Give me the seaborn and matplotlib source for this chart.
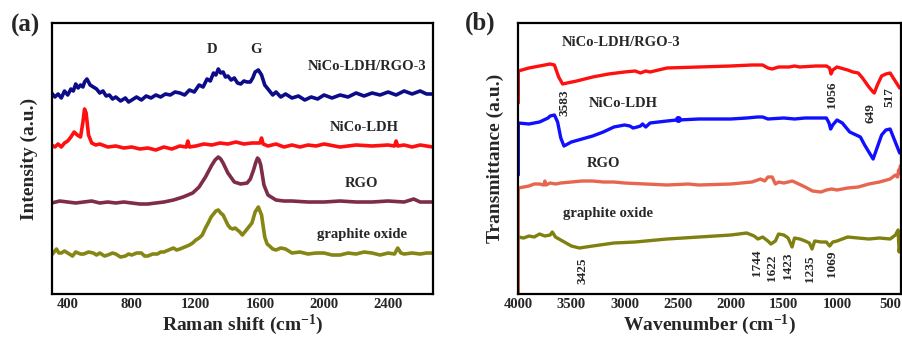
import matplotlib
matplotlib.use("Agg")
import matplotlib.pyplot as plt
import seaborn as sns
from matplotlib.ticker import MultipleLocator

# ---------------- Raman data (panel a) ----------------
raman_comp_x = [300, 320, 340, 360, 380, 400, 420, 435, 450, 465, 480, 495, 505, 520, 540, 560, 580, 600, 620, 640, 660, 680,
                700, 730, 760, 780, 800, 830, 860, 890, 920, 950, 980, 1010, 1040, 1070, 1100, 1130, 1160, 1190, 1220, 1245,
                1270, 1290, 1310, 1325, 1340, 1355, 1370, 1385, 1400, 1420, 1440, 1460, 1480, 1500, 1520, 1540, 1555, 1570,
                1590, 1610, 1630, 1645, 1660, 1680, 1700, 1730, 1760, 1800, 1840, 1880, 1920, 1960, 2000, 2050, 2100, 2150,
                2200, 2250, 2300, 2350, 2400, 2450, 2500, 2550, 2600, 2640, 2680]
raman_comp_y = [201, 197, 200, 196, 203, 199, 205, 203, 210, 206, 209, 207, 212, 215, 209, 207, 205, 201, 203, 198, 199, 195,
                197, 193, 196, 192, 194, 197, 194, 198, 196, 199, 197, 200, 199, 202, 201, 199, 204, 202, 209, 207,
                215, 213, 221, 219, 225, 221, 222, 217, 218, 214, 216, 211, 210, 213, 212, 212, 216, 222,
                224, 219, 209, 206, 203, 199, 202, 197, 200, 196, 198, 194, 197, 195, 199, 196, 199, 197,
                201, 198, 201, 199, 202, 199, 203, 200, 203, 200, 200]

raman_ldh_x = [300, 320, 340, 360, 380, 400, 420, 440, 460, 480, 495, 505, 515, 530, 550, 575, 600, 650, 700, 750, 800,
               850, 900, 950, 1000, 1050, 1100, 1140, 1150, 1160, 1200, 1250, 1300, 1350, 1400, 1450, 1500, 1550, 1600,
               1610, 1620, 1650, 1700, 1750, 1800, 1850, 1900, 1950, 2000, 2100, 2200, 2300, 2400, 2440, 2450, 2460,
               2500, 2550, 2600, 2640, 2680]
raman_ldh_y = [149, 147, 150, 147, 151, 153, 157, 162, 159, 157, 172, 185, 181, 159, 151, 149, 150, 147, 148, 146, 147,
               145, 146, 144, 147, 145, 148, 147, 153, 147, 148, 150, 149, 151, 150, 152, 150, 151, 151,
               156, 150, 148, 150, 147, 149, 147, 149, 148, 150, 147, 149, 148, 149, 148, 153, 148,
               149, 147, 149, 148, 147]

raman_rgo_x = [300, 350, 400, 450, 500, 550, 600, 650, 700, 750, 800, 850, 900, 950, 1000, 1060, 1120, 1180, 1220, 1260,
               1300, 1320, 1340, 1355, 1370, 1400, 1440, 1480, 1520, 1540, 1560, 1575, 1585, 1595, 1605, 1625, 1650,
               1700, 1750, 1800, 1900, 2000, 2100, 2200, 2300, 2400, 2500, 2560, 2600, 2680]
raman_rgo_y = [91, 93, 92, 91, 92, 93, 91, 92, 91, 92, 91, 90, 90, 91, 92, 94, 97, 101, 107, 117,
               129, 134, 137, 135, 131, 121, 112, 110, 111, 115, 124, 132, 136, 134, 129, 109, 99,
               94, 93, 93, 92, 92, 93, 92, 92, 93, 92, 95, 92, 92]

raman_go_x = [300, 315, 330, 345, 360, 380, 400, 430, 450, 480, 500, 530, 560, 580, 600, 630, 650, 680, 700, 730, 760, 780,
              800, 830, 860, 880, 900, 930, 960, 980, 1000, 1030, 1060, 1080, 1100, 1130, 1160, 1180, 1200, 1220, 1240,
              1260, 1280, 1295, 1310, 1325, 1340, 1355, 1370, 1385, 1400, 1415, 1430, 1445, 1460, 1475, 1490, 1505, 1520,
              1535, 1550, 1570, 1590, 1610, 1630, 1645, 1660, 1680, 1700, 1730, 1760, 1800, 1850, 1900, 1950, 2000, 2050,
              2100, 2150, 2200, 2250, 2300, 2350, 2400, 2440, 2460, 2480, 2500, 2550, 2600, 2640, 2680]
raman_go_y = [39, 42, 45, 41, 41, 43, 41, 38, 42, 40, 40, 42, 41, 39, 41, 38, 39, 41, 40, 37, 38, 40,
              39, 41, 41, 38, 38, 40, 40, 42, 42, 44, 46, 44, 45, 47, 49, 51, 54, 56, 59,
              66, 72, 77, 80, 83, 84, 81, 79, 74, 69, 66, 65, 66, 64, 62, 59, 62, 65,
              68, 71, 82, 87, 79, 57, 50, 48, 45, 44, 46, 45, 41, 42, 40, 41, 41, 39,
              39, 41, 40, 42, 41, 39, 41, 40, 46, 41, 40, 41, 40, 41, 41]

# ---------------- FTIR data (panel b) ----------------
ftir_comp_x = [4000, 4000, 3900, 3800, 3700, 3660, 3620, 3583, 3540, 3450, 3300, 3150, 3000, 2900, 2850, 2800, 2760, 2600,
               2300, 2000, 1800, 1700, 1650, 1610, 1550, 1450, 1400, 1350, 1200, 1100, 1070, 1056, 1040, 1000, 900,
               850, 800, 760, 700, 660, 649, 620, 580, 540, 500, 470, 440, 410]
ftir_comp_y = [191, 223, 226, 228, 230, 229, 217, 210, 211, 213, 217, 220, 222, 223, 221, 223, 222, 226,
               227, 228, 229, 229, 226, 225, 227, 227, 228, 227, 228, 228, 226, 220, 224, 227, 224,
               222, 221, 216, 207, 202, 201, 209, 218, 220, 221, 216, 211, 206]

ftir_ldh_x = [4000, 4000, 3900, 3800, 3720, 3700, 3660, 3630, 3600, 3570, 3500, 3400, 3300, 3200, 3100, 3000, 2950, 2920,
              2880, 2850, 2830, 2800, 2760, 2600, 2510, 2500, 2490, 2300, 2000, 1850, 1750, 1700, 1650, 1500, 1400,
              1300, 1100, 1075, 1060, 1040, 1000, 950, 880, 820, 780, 740, 700, 660, 620, 580, 540, 500, 470, 440, 410]
ftir_ldh_y = [119, 171, 170, 172, 176, 178, 179, 172, 156, 148, 152, 155, 158, 162, 167, 169, 168, 166,
              167, 168, 170, 167, 171, 173, 174, 176, 174, 175, 175, 176, 177, 177, 175, 176, 175,
              176, 176, 171, 165, 169, 174, 171, 162, 159, 157, 149, 142, 135, 147, 159, 164, 165, 157, 149, 141]

ftir_rgo_x = [4000, 4000, 3950, 3900, 3850, 3800, 3760, 3750, 3740, 3700, 3650, 3600, 3500, 3400, 3300, 3200, 3100, 3000,
              2800, 2600, 2400, 2300, 2000, 1800, 1720, 1680, 1650, 1610, 1580, 1550, 1500, 1460, 1420, 1380, 1300,
              1230, 1150, 1100, 1050, 1000, 900, 800, 700, 600, 500, 450, 430, 420, 410, 405]
ftir_rgo_y = [0, 106, 107, 108, 110, 110, 109, 113, 109, 111, 110, 111, 112, 113, 113, 112, 112, 111,
              110, 109, 110, 109, 110, 112, 115, 113, 117, 117, 110, 112, 111, 112, 113, 111, 107,
              103, 102, 104, 105, 104, 106, 107, 110, 112, 115, 119, 117, 124, 121, 128]

ftir_go_x = [4000, 3950, 3900, 3850, 3800, 3750, 3700, 3680, 3650, 3600, 3500, 3425, 3300, 3100, 2900, 2600, 2300, 2000,
             1850, 1780, 1744, 1700, 1650, 1622, 1580, 1550, 1500, 1460, 1423, 1400, 1350, 1300, 1260, 1235, 1210,
             1150, 1100, 1069, 1040, 1000, 900, 800, 700, 600, 500, 450, 425, 415, 405]
ftir_go_y = [57, 56, 58, 57, 60, 58, 59, 62, 57, 54, 48, 46, 48, 51, 52, 55, 57, 59,
             61, 58, 55, 57, 53, 50, 53, 60, 59, 56, 47, 56, 55, 53, 51, 45, 53,
             52, 52, 48, 52, 53, 57, 56, 55, 56, 55, 59, 64, 42, 52]

# labels
raman_labels = ["NiCo-LDH/RGO-3", "NiCo-LDH", "RGO", "graphite oxide"]
ftir_labels = ["NiCo-LDH/RGO-3", "NiCo-LDH", "RGO", "graphite oxide"]
ftir_peaks = ["3583", "1056", "649", "517", "3425", "1744", "1622", "1423", "1235", "1069"]
raman_ticks = [400, 800, 1200, 1600, 2000, 2400]
ftir_ticks = [4000, 3500, 3000, 2500, 2000, 1500, 1000, 500]

# ---------------- style ----------------
sns.set_style("white")
plt.rcParams["font.family"] = ["Liberation Serif", "DejaVu Serif"]
plt.rcParams["font.weight"] = "bold"
plt.rcParams["mathtext.fontset"] = "custom"
plt.rcParams["mathtext.rm"] = "Liberation Serif:bold"
plt.rcParams["mathtext.it"] = "Liberation Serif:bold"
plt.rcParams["mathtext.bf"] = "Liberation Serif:bold"

fig = plt.figure(figsize=(9.02, 3.44), dpi=100)
axa = fig.add_axes([0.0573, 0.1453, 0.4227, 0.787])
axb = fig.add_axes([0.5746, 0.1453, 0.4240, 0.787])

raman_cols = ["#0c0c8a", "#ff1010", "#7e2c48", "#868614"]
ftir_cols = ["#ff1010", "#1010ff", "#e8664e", "#808010"]

raman_series = [(raman_comp_x, raman_comp_y), (raman_ldh_x, raman_ldh_y),
                (raman_rgo_x, raman_rgo_y), (raman_go_x, raman_go_y)]
for (xs, ys), c in zip(raman_series, raman_cols):
    sns.lineplot(x=xs, y=ys, ax=axa, color=c, lw=2.6, sort=False, estimator=None)

ftir_series = [(ftir_comp_x, ftir_comp_y), (ftir_ldh_x, ftir_ldh_y),
               (ftir_rgo_x, ftir_rgo_y), (ftir_go_x, ftir_go_y)]
for (xs, ys), c in zip(ftir_series, ftir_cols):
    sns.lineplot(x=xs, y=ys, ax=axb, color=c, lw=2.4, sort=False, estimator=None)
axb.plot([2500], [175], marker="o", ms=4, color=ftir_cols[1])

for ax in (axa, axb):
    ax.set_ylim(0, 270.7)
    ax.set_yticks([])
    for s in ax.spines.values():
        s.set_linewidth(1.6)
        s.set_color("black")
    ax.tick_params(axis="x", direction="in", length=5, width=1.3, labelsize=10.5, pad=3)
    ax.tick_params(axis="x", which="minor", direction="in", length=3, width=1.1)

axa.set_xlim(300, 2680)
axa.set_xticks(raman_ticks)
axa.xaxis.set_minor_locator(MultipleLocator(200))
axb.set_xlim(4000, 400)
axb.set_xticks(ftir_ticks)
axb.xaxis.set_minor_locator(MultipleLocator(250))
for ax in (axa, axb):
    for lab in ax.get_xticklabels():
        lab.set_fontweight("bold")

axa.set_xlabel("Raman shift (cm$^{-1}$)", fontsize=14, fontweight="bold", labelpad=1)
axa.set_ylabel("Intensity (a.u.)", fontsize=14, fontweight="bold", labelpad=10)
axb.set_xlabel("Wavenumber (cm$^{-1}$)", fontsize=14, fontweight="bold", labelpad=1)
axb.set_ylabel("Transmittance (a.u.)", fontsize=14, fontweight="bold", labelpad=10)

# panel a texts
tk = dict(fontsize=10.5, fontweight="bold", ha="center", va="center")
for lab, (x, y) in zip(raman_labels, [(2267, 227), (2249, 166), (2236, 111), (2236, 60)]):
    axa.text(x, y, lab, **tk)
axa.text(1300, 244, "D", **tk)
axa.text(1577, 244, "G", **tk)

# panel b texts
for lab, (x, y) in zip(ftir_labels, [(3589, 251), (3341, 190), (3356, 131), (3582, 81)]):
    axb.text(x, y, lab, fontsize=10.5, fontweight="bold", ha="left", va="center")
peak_pos = [(3570, 191), (1049, 199), (682, 181), (507, 197), (3400, 23),
            (1755, 31), (1614, 26), (1458, 28), (1253, 25), (1049, 30)]
for lab, (x, y) in zip(ftir_peaks, peak_pos):
    axb.text(x, y, lab, fontsize=9.5, fontweight="bold", rotation=90, ha="center", va="center")

fig.text(25 / 902, 1 - 25 / 344, "(a)", fontsize=18, fontweight="bold", ha="center", va="center")
fig.text(480 / 902, 1 - 23 / 344, "(b)", fontsize=18, fontweight="bold", ha="center", va="center")

fig.savefig("out.png", dpi=100)
